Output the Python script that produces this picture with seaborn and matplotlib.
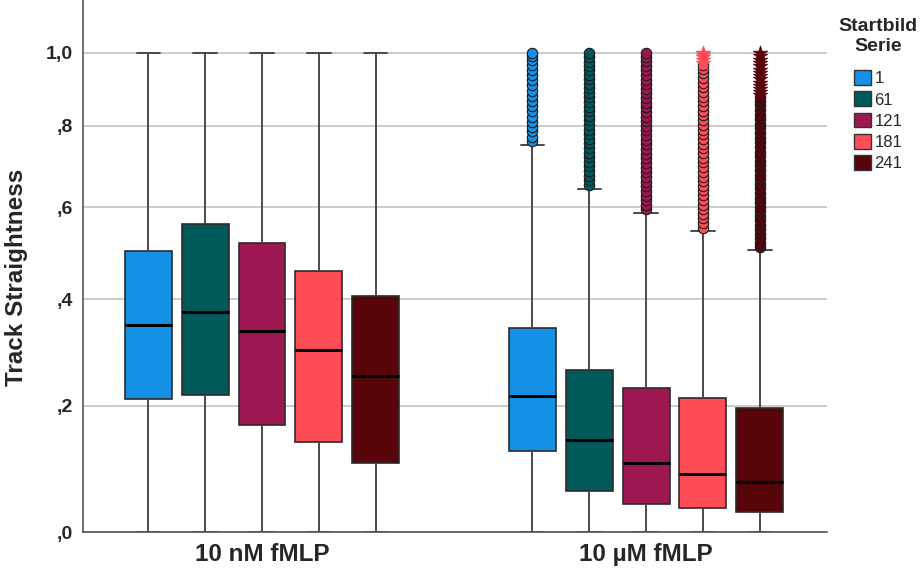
import numpy as np
import pandas as pd
import matplotlib
matplotlib.use("Agg")
import matplotlib.pyplot as plt
from matplotlib.patches import Patch
import seaborn as sns

# ---------------- data ----------------
groups = ["10 nM fMLP", "10 µM fMLP"]
series = ["1", "61", "121", "181", "241"]
colors = ["#1690E6", "#005A5A", "#9D1850", "#FF4D57", "#57050B"]

# five-number summaries per group (order of series)
nM_low = [0.0, 0.0, 0.0, 0.0, 0.0]
nM_q1 = [0.213, 0.220, 0.168, 0.139, 0.105]
nM_med = [0.350, 0.374, 0.338, 0.302, 0.254]
nM_q3 = [0.501, 0.561, 0.518, 0.458, 0.406]
nM_high = [1.0, 1.0, 1.0, 1.0, 1.0]

uM_low = [0.0, 0.0, 0.0, 0.0, 0.0]
uM_q1 = [0.125, 0.061, 0.041, 0.035, 0.029]
uM_med = [0.218, 0.142, 0.105, 0.088, 0.075]
uM_q3 = [0.344, 0.265, 0.232, 0.214, 0.197]
uM_high = [0.750, 0.642, 0.586, 0.545, 0.503]

# outliers (10 µM fMLP only): circles and extreme values (stars)
out_1 = [0.760, 0.772, 0.785, 0.797, 0.81, 0.824, 0.838, 0.851, 0.866, 0.88,
         0.894, 0.908, 0.922, 0.937, 0.951, 0.966, 0.98, 0.992, 1.0]
out_61 = [0.652, 0.663, 0.674, 0.686, 0.697, 0.708, 0.72, 0.731, 0.743, 0.755,
          0.766, 0.778, 0.79, 0.802, 0.814, 0.826, 0.838, 0.85, 0.862, 0.875,
          0.887, 0.9, 0.912, 0.925, 0.937, 0.95, 0.962, 0.975, 0.988, 1.0]
out_121 = [0.595, 0.605, 0.616, 0.627, 0.638, 0.649, 0.66, 0.671, 0.683, 0.694,
           0.706, 0.717, 0.729, 0.741, 0.752, 0.764, 0.776, 0.788, 0.8, 0.812,
           0.824, 0.836, 0.849, 0.861, 0.874, 0.886, 0.899, 0.912, 0.924, 0.937,
           0.95, 0.963, 0.976, 0.989, 1.0]
out_181 = [0.553, 0.563, 0.574, 0.584, 0.595, 0.606, 0.617, 0.628, 0.639, 0.65,
           0.661, 0.672, 0.684, 0.695, 0.707, 0.718, 0.73, 0.742, 0.754, 0.766,
           0.778, 0.79, 0.802, 0.814, 0.827, 0.839, 0.852, 0.865, 0.877, 0.89,
           0.903, 0.916, 0.929, 0.942, 0.955, 0.965]
out_241 = [0.51, 0.52, 0.53, 0.54, 0.55, 0.56, 0.57, 0.58, 0.591, 0.601,
           0.612, 0.622, 0.633, 0.644, 0.655, 0.666, 0.677, 0.688, 0.7, 0.711,
           0.722, 0.734, 0.746, 0.757, 0.769, 0.781, 0.793, 0.805, 0.817, 0.829,
           0.842, 0.854, 0.866, 0.875]
ext_181 = [0.972, 0.98, 0.988, 0.995, 1.0]
ext_241 = [0.882, 0.89, 0.899, 0.907, 0.916, 0.925, 0.934, 0.943, 0.952, 0.961,
           0.97, 0.98, 0.99, 1.0]

ytick_vals = [0.0, 0.2, 0.4, 0.6, 0.8, 1.0]
ytick_labels = [",0", ",2", ",4", ",6", ",8", "1,0"]

# ---------------- build table ----------------
rows = []
summ = {groups[0]: [nM_low, nM_q1, nM_med, nM_q3, nM_high],
        groups[1]: [uM_low, uM_q1, uM_med, uM_q3, uM_high]}
for g in groups:
    for i, s in enumerate(series):
        for arr in summ[g]:
            rows.append({"group": g, "serie": s, "value": arr[i]})
df = pd.DataFrame(rows)

circle_out = [out_1, out_61, out_121, out_181, out_241]
star_out = [[], [], [], ext_181, ext_241]

# ---------------- plot ----------------
sns.set_style("white")
plt.rcParams["font.family"] = ["Liberation Sans", "DejaVu Sans"]

fig = plt.figure(figsize=(9.23, 5.69), dpi=100)
ax = fig.add_axes([83 / 923, 37 / 569, (827 - 83) / 923, 532 / 569])

box_width = 0.74
sns.boxplot(data=df, x="group", y="value", hue="serie", order=groups,
            hue_order=series, palette=colors, saturation=1, width=box_width,
            gap=0.175, whis=np.inf, fliersize=0, linewidth=1.2,
            linecolor="#2b2b2b", legend=False, ax=ax,
            whiskerprops={"color": "#4a4a4a", "linewidth": 1.4},
            capprops={"color": "#4a4a4a", "linewidth": 1.4},
            medianprops={"color": "black", "linewidth": 2.2},
            boxprops={"edgecolor": "#2b2b2b", "linewidth": 1.2})

n = len(series)
offsets = (np.arange(n) - (n - 1) / 2) * (box_width / n)
gi = groups.index("10 µM fMLP")
for i in range(n):
    xs = np.full(len(circle_out[i]), gi + offsets[i])
    ax.scatter(xs, circle_out[i], s=56, color=colors[i], edgecolor="#1a1a1a",
               linewidth=0.8, zorder=5)
    if star_out[i]:
        xs2 = np.full(len(star_out[i]), gi + offsets[i])
        ax.scatter(xs2, star_out[i], s=120, marker="*", color=colors[i],
                   edgecolor=colors[i], linewidth=0.5, zorder=6)

ax.set_yscale("function", functions=(lambda v: np.log1p(np.clip(v, -0.99, None)),
                                     lambda v: np.expm1(v)))
ax.set_ylim(0, 1.159)
ax.set_xlim(-0.466, 1.471)
ax.set_yticks(ytick_vals)
ax.set_yticklabels(ytick_labels, fontsize=14, fontweight="bold")
ax.yaxis.set_minor_locator(matplotlib.ticker.NullLocator())
ax.set_xticks(range(len(groups)))
ax.set_xticklabels(groups, fontsize=17.5, fontweight="bold")
ax.tick_params(axis="both", length=0)
ax.tick_params(axis="y", pad=7)
ax.tick_params(axis="x", pad=8)
ax.yaxis.grid(True, color="#c8c8c8", linewidth=1.3)
ax.set_axisbelow(True)
ax.set_xlabel("")
ax.set_ylabel("Track Straightness", fontsize=17.5, fontweight="bold")
ax.yaxis.set_label_coords(-0.074, 0.479)

for side in ["top", "right"]:
    ax.spines[side].set_visible(False)
for side in ["left", "bottom"]:
    ax.spines[side].set_color("#555555")
    ax.spines[side].set_linewidth(1.2)

handles = [Patch(facecolor=c, edgecolor="#333333", linewidth=1.0, label=s)
           for c, s in zip(colors, series)]
leg = fig.legend(handles=handles, title="Startbild\nSerie", loc="upper center",
                 bbox_to_anchor=(878 / 923, 1.0 - 5 / 569), frameon=False,
                 fontsize=12,
                 title_fontproperties={"weight": "bold", "size": 14},
                 handlelength=1.05, handleheight=1.0, handletextpad=0.2,
                 labelspacing=0.3, borderpad=0.3)
leg.get_title().set_multialignment("center")
leg._legend_box.sep = 11

fig.savefig("out.png", dpi=100)
